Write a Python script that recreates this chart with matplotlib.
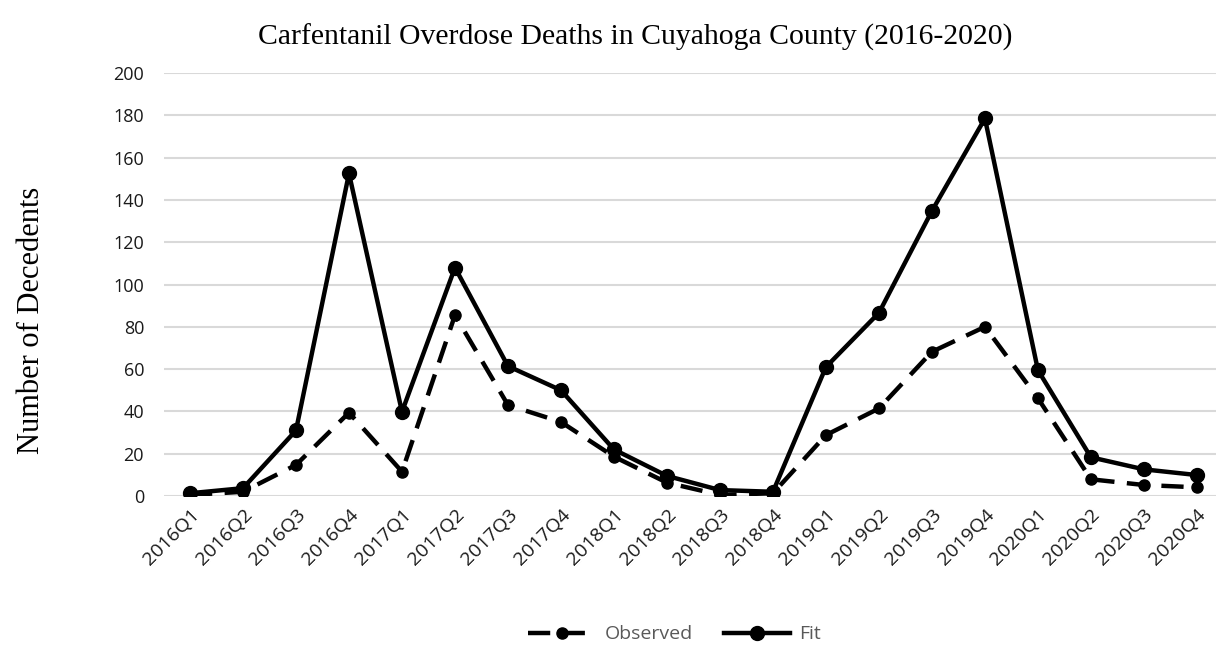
import matplotlib.pyplot as plt
import numpy as np

quarters = ['2016Q1', '2016Q2', '2016Q3', '2016Q4',
            '2017Q1', '2017Q2', '2017Q3', '2017Q4',
            '2018Q1', '2018Q2', '2018Q3', '2018Q4',
            '2019Q1', '2019Q2', '2019Q3', '2019Q4',
            '2020Q1', '2020Q2', '2020Q3', '2020Q4']
observed = [0.5, 2, 14.7, 39.4, 11.5, 85.5, 43, 35, 18.6, 6.3,
            0.5, 1.3, 28.8, 41.4, 68.2, 80, 46.2, 7.9, 5.2, 4.1]
fit = [1.3, 3.7, 31, 152.5, 39.8, 108, 61.4, 50, 22, 9.5,
       2.8, 2, 61, 86.6, 134.8, 178.5, 59.5, 18.3, 12.6, 9.9]
y_ticks = [0, 20, 40, 60, 80, 100, 120, 140, 160, 180, 200]

tick_font = 'Open Sans'
serif_font = 'Liberation Serif'

fig = plt.figure(figsize=(12.16, 6.48), dpi=100)
ax = fig.add_axes([163.5 / 1216, (648 - 496) / 648, (1216 - 163.5) / 1216, (496 - 73) / 648])

x = np.arange(len(quarters))
ax.plot(x, observed, color='black', linewidth=3.2, linestyle=(0, (5, 2.8)),
        marker='o', markersize=8, label='Observed')
ax.plot(x, fit, color='black', linewidth=3.2, marker='o', markersize=10, label='Fit')

ax.set_xlim(-0.5, 19.36)
ax.set_ylim(0, 200)
ax.set_yticks(y_ticks)
ax.set_xticks(x)
ax.set_xticklabels(quarters, rotation=45, ha='right', rotation_mode='anchor',
                   fontsize=14, family=tick_font, color='#1a1a1a')
ax.tick_params(axis='y', labelsize=13, length=0, pad=14, labelcolor='#1a1a1a')
ax.tick_params(axis='x', length=0, pad=7)
for lbl in ax.get_yticklabels():
    lbl.set_family(tick_font)
ax.grid(axis='y', color='#d9d9d9', linewidth=1.5)
ax.set_axisbelow(True)
for s in ax.spines.values():
    s.set_visible(False)

fig.text(0.522, 0.943, 'Carfentanil Overdose Deaths in Cuyahoga County (2016-2020)',
         ha='center', va='center', fontsize=21.4, family=serif_font)
fig.text(0.026, 0.506, 'Number of Decedents', rotation=90, ha='center', va='center',
         fontsize=22, family=serif_font)

leg = fig.legend(loc='center', bbox_to_anchor=(0.555, 0.021), ncol=2, frameon=False,
                 handlelength=3.4, handletextpad=0.5, columnspacing=1.6,
                 prop={'family': tick_font, 'size': 14})
for t in leg.get_texts():
    t.set_color('#595959')

fig.savefig('out.png', dpi=100)
